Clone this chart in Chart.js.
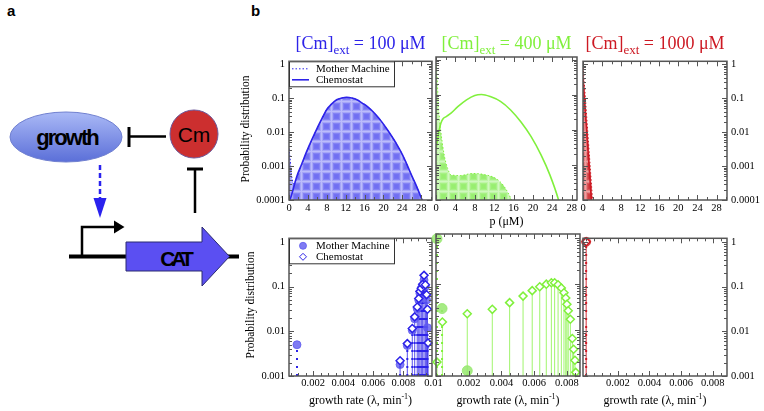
<!DOCTYPE html>
<html>
<head>
<meta charset="utf-8">
<script src="https://cdn.jsdelivr.net/npm/chart.js@4.4.1/dist/chart.umd.min.js"></script>
<style>
  body { margin: 0; background: #fff; }
  #fig { position: relative; width: 764px; height: 411px; overflow: hidden; font-family: 'Liberation Serif', 'Times New Roman', serif; }
  #fig canvas { position: absolute; }
  .lbl { position: absolute; white-space: nowrap; text-align: center; color: #000; }
  .title { font-size: 18px; line-height: 18px; top: 34px; }
  .title sub { font-size: 13px; line-height: 0; vertical-align: -5px; }
  .ytitle { font-size: 11.5px; width: 160px; height: 14px; line-height: 14px; transform: rotate(-90deg); }
  .xtitle { font-size: 12px; line-height: 14px; }
  .xtitle sup { font-size: 8px; line-height: 0; vertical-align: 5px; }
  .letter { position: absolute; font-family: 'Liberation Sans', Arial, sans-serif; font-weight: bold; font-size: 15px; }
</style>
</head>
<body>
<div id="fig">
  <div class="letter" style="left:7px;top:2px">a</div>
  <div class="letter" style="left:251px;top:2px">b</div>

  <!-- panel a: the feedback sketch -->
  <svg width="260" height="300" style="position:absolute;left:0;top:0">
    <defs>
      <linearGradient id="gGrow" x1="0" y1="0" x2="0" y2="1">
        <stop offset="0" stop-color="#aab9f6"/>
        <stop offset="1" stop-color="#5b6fd8"/>
      </linearGradient>
    </defs>
    <ellipse cx="66" cy="137" rx="56" ry="25" fill="url(#gGrow)" stroke="#7080d0" stroke-width="1"/>
    <text x="67" y="145" text-anchor="middle" font-family="Liberation Sans" font-weight="bold" font-size="22" letter-spacing="-2">growth</text>
    <line x1="166" y1="136.5" x2="129" y2="136.5" stroke="#000" stroke-width="2.5"/>
    <line x1="129" y1="127" x2="129" y2="147" stroke="#000" stroke-width="3"/>
    <circle cx="194" cy="134" r="24" fill="#cc2f2f" stroke="#6d5a9c" stroke-width="1"/>
    <text x="194" y="142" text-anchor="middle" font-family="Liberation Sans" font-size="21">Cm</text>
    <line x1="195" y1="213" x2="195" y2="169" stroke="#000" stroke-width="2.5"/>
    <line x1="187" y1="169" x2="203" y2="169" stroke="#000" stroke-width="3"/>
    <line x1="100" y1="165" x2="100" y2="199" stroke="#2a22ee" stroke-width="2.5" stroke-dasharray="5,3"/>
    <polygon points="93.5,198 106.5,198 100,218" fill="#2a22ee"/>
    <line x1="69" y1="256.5" x2="239" y2="256.5" stroke="#000" stroke-width="4"/>
    <polyline points="82,256 82,227 115,227" fill="none" stroke="#000" stroke-width="2.5"/>
    <polygon points="114,220.5 124.5,227 114,233.5" fill="#000"/>
    <polygon points="126,242 202,242 202,227 229.5,256.5 202,286 202,271 126,271" fill="#5b4ff2" stroke="#2a2a70" stroke-width="1"/>
    <text x="175" y="266" text-anchor="middle" font-family="Liberation Sans" font-weight="bold" font-size="21" letter-spacing="-4">CAT</text>
  </svg>
</div>

<script>
// ---------- data ----------
const P_TICKS = [0, 4, 8, 12, 16, 20, 24, 28];
const LAMBDA_TICKS = [0.002, 0.004, 0.006, 0.008, 0.01];
const TOP_Y_TICKS = [0.0001, 0.001, 0.01, 0.1, 1];
const BOT_Y_TICKS = [0.001, 0.01, 0.1, 1];

// protein p (uM) distributions, [Cm]ext = 100 uM
const p100Chemo   = [0, 0.6, 1.6, 2.7, 3.75, 4.8, 5.9, 7, 8, 9, 10.1, 11.2, 12.25, 13.3, 14.4, 15.5, 16.5, 17.6, 18.6, 19.7, 20.7, 21.8, 22.9, 24, 25, 26, 27.1, 28.2, 29];
const pdf100Chemo = [0.00008, 0.00015, 0.00047, 0.00115, 0.0027, 0.0058, 0.0124, 0.025, 0.046, 0.066, 0.089, 0.1, 0.105, 0.1, 0.089, 0.071, 0.058, 0.042, 0.03, 0.0195, 0.0125, 0.0074, 0.0042, 0.0022, 0.0011, 0.00052, 0.00024, 0.0001, 0.00005];
const p100Mother   = [0, 0.25, 0.5, 0.8, 1.1, 1.6, 2.7, 3.75, 4.8, 5.9, 7, 8, 9, 10.1, 11.2, 12.25, 13.3, 14.4, 15.5, 16.5, 17.6, 18.6, 19.7, 20.7, 21.8, 22.9, 24, 25, 26, 27.1, 28.2, 29];
const pdf100Mother = [0.0033, 0.0016, 0.0006, 0.00035, 0.0003, 0.00045, 0.0011, 0.0026, 0.0057, 0.0122, 0.025, 0.046, 0.066, 0.088, 0.1, 0.104, 0.1, 0.089, 0.071, 0.058, 0.042, 0.03, 0.0195, 0.0125, 0.0074, 0.0042, 0.0022, 0.0011, 0.00052, 0.00024, 0.0001, 0.00005];

// [Cm]ext = 400 uM
const p400Chemo   = [0, 0.3, 0.6, 1.0, 1.5, 2.1, 3.1, 4.5, 6.3, 8.0, 9.4, 11.2, 13.3, 15.4, 17.5, 19.6, 21.7, 23.5, 25.2, 26];
const pdf400Chemo = [0.003, 0.005, 0.009, 0.0155, 0.021, 0.024, 0.03, 0.046, 0.072, 0.096, 0.102, 0.089, 0.065, 0.037, 0.017, 0.0065, 0.0019, 0.00052, 0.00011, 0.00004];
const p400Mother   = [0, 0.2, 0.5, 1.0, 1.7, 2.4, 3.1, 5, 7.5, 10, 12.5, 14, 15.6, 16.2];
const pdf400Mother = [0.8, 0.37, 0.05, 0.009, 0.0019, 0.0008, 0.00052, 0.0005, 0.00057, 0.00053, 0.0004, 0.00025, 0.0001, 0.00006];

// [Cm]ext = 1000 uM
const p1000Chemo   = [0, 0.5, 1.0, 1.5, 1.75, 2.0];
const pdf1000Chemo = [0.37, 0.036, 0.0035, 0.00034, 0.0001, 0.00003];
const p1000Mother   = [0, 0.5, 1.0, 1.5, 2.0, 2.2];
const pdf1000Mother = [1, 0.1, 0.01, 0.001, 0.0001, 0.00004];

// growth rate (1/min) distributions
const lam100Chemo   = [0.00778, 0.00826, 0.00859, 0.00875, 0.00892, 0.00902, 0.0091, 0.00919, 0.00928, 0.00937, 0.00946, 0.00954, 0.0096, 0.00964];
const gpdf100Chemo  = [0.0022, 0.0053, 0.0115, 0.021, 0.035, 0.054, 0.078, 0.092, 0.112, 0.178, 0.11, 0.066, 0.031, 0.0055];
const lam100Mother  = [0.00093, 0.00778, 0.00826, 0.00859, 0.00875, 0.00892, 0.00902, 0.0091, 0.00919, 0.00928, 0.00937, 0.00946, 0.00954, 0.0096];
const gpdf100Mother = [0.005, 0.0018, 0.0048, 0.0105, 0.019, 0.032, 0.05, 0.07, 0.09, 0.1, 0.14, 0.1, 0.05, 0.012];

const lam400Chemo   = [0.00006, 0.00039, 0.00191, 0.00344, 0.0045, 0.00532, 0.00588, 0.00634, 0.00674, 0.00705, 0.00725, 0.00746, 0.00766, 0.00782, 0.00793, 0.008, 0.00808, 0.00821, 0.00833, 0.00841, 0.00849, 0.00854];
const gpdf400Chemo  = [0.002, 0.0148, 0.0224, 0.0279, 0.039, 0.054, 0.071, 0.086, 0.098, 0.105, 0.105, 0.095, 0.081, 0.064, 0.049, 0.036, 0.026, 0.017, 0.0065, 0.0038, 0.0022, 0.0012];
const lam400Mother  = [0.00006, 0.00037, 0.00191];
const gpdf400Mother = [0.95, 0.029, 0.0013];

const lam1000Chemo   = [0];
const gpdf1000Chemo  = [1];
const lam1000Mother  = [0];
const gpdf1000Mother = [1];

// ---------- styling ----------
const BLUE = 'rgb(45,35,232)', GREEN = 'rgb(128,240,60)', RED = 'rgb(205,25,35)';
const L = 58, R = 42, T = 6, B = 22;
const fig = document.getElementById('fig');
Chart.defaults.font.family = "'Liberation Serif', 'Times New Roman', serif";
Chart.defaults.color = '#000';

// soft plaid fill like the original shading
function plaid(base, light) {
  const s = 10, cv = document.createElement('canvas');
  cv.width = cv.height = s;
  const g = cv.getContext('2d');
  const img = g.createImageData(s, s);
  for (let j = 0; j < s; j++) for (let i = 0; i < s; i++) {
    const di = Math.min(i, s - i), dj = Math.min(j, s - j);
    const t = 0.85 * Math.max(Math.exp(-di * di / 3), Math.exp(-dj * dj / 3));
    const k = (j * s + i) * 4;
    for (let c = 0; c < 3; c++) img.data[k + c] = Math.round(base[c] + (light[c] - base[c]) * t);
    img.data[k + 3] = 255;
  }
  g.putImageData(img, 0, 0);
  return g.createPattern(cv, 'repeat');
}

const curve = (xs, ys) => xs.map((x, i) => ({ x, y: ys[i] }));
const stems = (xs, ys, base) => {
  const out = [];
  xs.forEach((x, i) => out.push({ x, y: base }, { x, y: ys[i] }, { x, y: null }));
  return out;
};

// frame + inward major/minor ticks on all four sides
const frameTicks = {
  id: 'frameTicks',
  afterDatasetsDraw(chart, args, opts) {
    const { ctx, chartArea: a, scales: { x, y } } = chart;
    ctx.save();
    ctx.strokeStyle = '#555';
    ctx.lineWidth = 1;
    ctx.beginPath();
    const vx = (v, len) => {
      const px = Math.round(x.getPixelForValue(v)) + 0.5;
      ctx.moveTo(px, a.bottom); ctx.lineTo(px, a.bottom - len);
      ctx.moveTo(px, a.top); ctx.lineTo(px, a.top + len);
    };
    const hy = (v, len) => {
      const py = Math.round(y.getPixelForValue(v)) + 0.5;
      ctx.moveTo(a.left, py); ctx.lineTo(a.left + len, py);
      ctx.moveTo(a.right, py); ctx.lineTo(a.right - len, py);
    };
    const step = opts.xMinor;
    for (let i = Math.ceil(x.min / step - 1e-9); i * step <= x.max + 1e-12; i++) vx(i * step, 3);
    x.ticks.forEach(t => { if (t.value >= x.min && t.value <= x.max) vx(t.value, 5); });
    for (let d = Math.floor(Math.log10(y.min)); d <= Math.ceil(Math.log10(y.max)); d++) {
      for (let m = 1; m < 10; m++) {
        const v = m * Math.pow(10, d);
        if (v >= y.min * 0.999 && v <= y.max) hy(v, m === 1 ? 5 : 3);
      }
    }
    ctx.stroke();
    ctx.lineWidth = 1.5;
    ctx.strokeRect(a.left, a.top, a.width, a.height);
    ctx.restore();
  }
};

// boxed legend in the upper left corner of the plot
const boxLegend = {
  id: 'boxLegend',
  afterDraw(chart, args, opts) {
    if (!opts.items || !opts.items.length) return;
    const { ctx, chartArea: a } = chart;
    const x0 = a.left, y0 = a.top, rowH = 11;
    const h = opts.items.length * rowH + 3;
    ctx.save();
    ctx.fillStyle = '#fff';
    ctx.fillRect(x0, y0, opts.width, h);
    ctx.strokeStyle = '#333';
    ctx.lineWidth = 1;
    ctx.strokeRect(x0 + 0.5, y0 + 0.5, opts.width, h);
    opts.items.forEach((it, i) => {
      const ds = chart.data.datasets[it.ds];
      const cy = y0 + 7.5 + i * rowH;
      ctx.strokeStyle = ds.borderColor;
      if (ds.showLine === false) {
        ctx.fillStyle = ds.backgroundColor;
        Chart.helpers.drawPoint(ctx, { pointStyle: ds.pointStyle, radius: 3.5, borderWidth: ds.borderWidth, rotation: 0 }, x0 + 14, cy);
      } else {
        ctx.lineWidth = ds.borderWidth;
        ctx.setLineDash(ds.borderDash || []);
        ctx.beginPath(); ctx.moveTo(x0 + 3, cy); ctx.lineTo(x0 + 20, cy); ctx.stroke();
        ctx.setLineDash([]);
      }
      ctx.fillStyle = '#000';
      ctx.font = "11px 'Liberation Serif'";
      ctx.textBaseline = 'middle';
      ctx.fillText(it.text, x0 + 27, cy);
    });
    ctx.restore();
  }
};
Chart.register(frameTicks, boxLegend);

function panel(box, o) {
  const cv = document.createElement('canvas');
  cv.width = box.w + L + R;
  cv.height = box.h + T + B;
  cv.style.left = (box.x - L) + 'px';
  cv.style.top = (box.y - T) + 'px';
  fig.appendChild(cv);
  new Chart(cv, {
    type: 'line',
    data: { datasets: o.datasets },
    options: {
      responsive: false, animation: false, devicePixelRatio: 1, events: [],
      layout: { padding: { left: o.yPos === 'left' ? 0 : L, right: o.yPos === 'right' ? 0 : R, top: T, bottom: 0 } },
      plugins: {
        legend: { display: false }, tooltip: { enabled: false },
        frameTicks: { xMinor: o.xMinor },
        boxLegend: { items: o.legend || [], width: 105 }
      },
      scales: {
        x: {
          type: 'linear', min: o.xMin, max: o.xMax, bounds: 'data',
          grid: { display: false, drawTicks: false }, border: { display: false },
          ticks: { autoSkip: false, maxRotation: 0, minRotation: 0, padding: o.xPad, font: { size: 10.5 }, color: '#000', callback: v => String(v) },
          afterBuildTicks: s => { s.ticks = o.xTicks.map(v => ({ value: v })); },
          afterFit: s => { s.height = B; }
        },
        y: {
          type: 'logarithmic', display: o.yPos !== 'none', position: o.yPos === 'right' ? 'right' : 'left',
          min: o.yTicks[0], max: 1.2, bounds: 'data',
          grid: { display: false, drawTicks: false }, border: { display: false },
          ticks: { padding: 4, font: { size: 10.5 }, color: '#000', callback: v => String(v) },
          afterBuildTicks: s => { s.ticks = o.yTicks.map(v => ({ value: v })); },
          afterFit: s => { if (o.yPos !== 'none') s.width = o.yPos === 'right' ? R : L; }
        }
      }
    }
  });
}

function topSets(color, fill, pm, ym, pc, yc) {
  return [
    { label: 'Mother Machine', data: curve(pm, ym), borderColor: color, borderWidth: 1, borderDash: [1.5, 2],
      backgroundColor: fill, fill: 'start', pointRadius: 0, cubicInterpolationMode: 'monotone', order: 2 },
    { label: 'Chemostat', data: curve(pc, yc), borderColor: color, borderWidth: 1.6, fill: false,
      pointRadius: 0, cubicInterpolationMode: 'monotone', order: 1 }
  ];
}

function bottomSets(color, stemColor, dotFill, dotR, lm, ym, lc, yc) {
  const base = BOT_Y_TICKS[0];
  return [
    { label: 'Mother Machine', data: curve(lm, ym), showLine: false, pointStyle: 'circle', pointRadius: dotR,
      backgroundColor: dotFill, borderColor: dotFill, borderWidth: 1, order: 2, clip: 8 },
    { label: 'Chemostat', data: curve(lc, yc), showLine: false, pointStyle: 'rectRot', pointRadius: 4,
      backgroundColor: '#fff', borderColor: color, borderWidth: 1.5, order: 1, clip: 8 },
    { data: stems(lm, ym, base), borderColor: color, borderWidth: 2, borderDash: [2, 6], pointRadius: 0, spanGaps: false, order: 4 },
    { data: stems(lc, yc, base), borderColor: stemColor, borderWidth: 1, pointRadius: 0, spanGaps: false, order: 3 }
  ];
}

const blueFill = plaid([112, 110, 242], [200, 200, 252]);
const greenFill = plaid([152, 238, 112], [218, 250, 204]);
const redFill = plaid([210, 58, 62], [240, 178, 178]);

// top row: protein distributions
panel({ x: 289, y: 57, w: 143, h: 143 }, {
  yPos: 'left', xMin: 0, xMax: 30.3, xTicks: P_TICKS, xMinor: 2, xPad: 2, yTicks: TOP_Y_TICKS,
  datasets: topSets(BLUE, blueFill, p100Mother, pdf100Mother, p100Chemo, pdf100Chemo),
  legend: [{ text: 'Mother Machine', ds: 0 }, { text: 'Chemostat', ds: 1 }]
});
panel({ x: 436, y: 57, w: 141, h: 143 }, {
  yPos: 'none', xMin: 0, xMax: 29.1, xTicks: P_TICKS, xMinor: 2, xPad: 2, yTicks: TOP_Y_TICKS,
  datasets: topSets(GREEN, greenFill, p400Mother, pdf400Mother, p400Chemo, pdf400Chemo)
});
panel({ x: 583, y: 57, w: 144, h: 143 }, {
  yPos: 'right', xMin: 0, xMax: 30.2, xTicks: P_TICKS, xMinor: 2, xPad: 2, yTicks: TOP_Y_TICKS,
  datasets: topSets(RED, redFill, p1000Mother, pdf1000Mother, p1000Chemo, pdf1000Chemo)
});

// bottom row: growth-rate distributions
panel({ x: 289, y: 234, w: 143, h: 142 }, {
  yPos: 'left', xMin: 0.0004, xMax: 0.0099, xTicks: LAMBDA_TICKS, xMinor: 0.0005, xPad: 1, yTicks: BOT_Y_TICKS,
  datasets: bottomSets(BLUE, 'rgba(45,35,232,0.8)', 'rgba(95,90,240,0.8)', 4, lam100Mother, gpdf100Mother, lam100Chemo, gpdf100Chemo),
  legend: [{ text: 'Mother Machine', ds: 0 }, { text: 'Chemostat', ds: 1 }]
});
panel({ x: 436, y: 234, w: 144, h: 142 }, {
  yPos: 'none', xMin: 0, xMax: 0.0088, xTicks: LAMBDA_TICKS.slice(0, 4), xMinor: 0.0005, xPad: 1, yTicks: BOT_Y_TICKS,
  datasets: bottomSets(GREEN, 'rgba(128,240,60,0.75)', 'rgba(150,232,110,0.85)', 5, lam400Mother, gpdf400Mother, lam400Chemo, gpdf400Chemo)
});
panel({ x: 583, y: 234, w: 144, h: 142 }, {
  yPos: 'right', xMin: -0.0002, xMax: 0.0089, xTicks: LAMBDA_TICKS.slice(0, 4), xMinor: 0.0005, xPad: 1, yTicks: BOT_Y_TICKS,
  datasets: bottomSets(RED, 'rgba(205,25,35,0.9)', 'rgba(215,60,60,0.8)', 4.5, lam1000Mother, gpdf1000Mother, lam1000Chemo, gpdf1000Chemo)
});

// text labels
function label(cls, html, css) {
  const d = document.createElement('div');
  d.className = 'lbl ' + cls;
  d.innerHTML = html;
  Object.assign(d.style, css);
  fig.appendChild(d);
}
label('title', '[Cm]<sub>ext</sub> = 100 μM', { left: '289px', width: '143px', color: BLUE });
label('title', '[Cm]<sub>ext</sub> = 400 μM', { left: '436px', width: '141px', color: GREEN });
label('title', '[Cm]<sub>ext</sub> = 1000 μM', { left: '583px', width: '144px', color: RED });
label('ytitle', 'Probability distribution', { left: (245 - 80) + 'px', top: (129 - 7) + 'px' });
label('ytitle', 'Probability distribution', { left: (250 - 80) + 'px', top: (305 - 7) + 'px' });
label('xtitle', 'p (μM)', { left: '436px', width: '141px', top: '214px' });
label('xtitle', 'growth rate (λ, min<sup>-1</sup>)', { left: '289px', width: '143px', top: '393px' });
label('xtitle', 'growth rate (λ, min<sup>-1</sup>)', { left: '436px', width: '144px', top: '393px' });
label('xtitle', 'growth rate (λ, min<sup>-1</sup>)', { left: '583px', width: '144px', top: '393px' });
</script>
</body>
</html>
